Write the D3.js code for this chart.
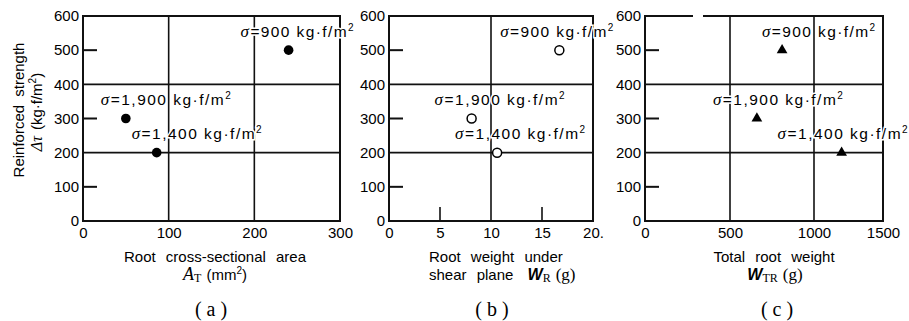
<!DOCTYPE html>
<html>
<head>
<meta charset="utf-8">
<script src="https://cdn.jsdelivr.net/npm/d3@7"></script>
<style>
  html, body { margin: 0; padding: 0; background: #fff; }
  svg { display: block; }
  text { font-family: "Liberation Sans", Arial, sans-serif; fill: #000; }
  .serif { font-family: "Liberation Serif", "DejaVu Serif", serif; }
</style>
</head>
<body>
<svg id="chart" width="909" height="321"></svg>
<script>
// data
const sigmaLabels = ['900', '1,900', '1,400'];
const strength = [500, 300, 200];            // reinforced strength Δτ (kg·f/m²)
const rootArea = [240, 50, 86];              // (a) A_T (mm²)
const rootWeightShear = [16.7, 8.1, 10.6];   // (b) W_R (g)
const totalRootWeight = [810, 660, 1200];    // (c) W_TR (g)

const yTicks = [0, 100, 200, 300, 400, 500, 600];
const xTicksA = [0, 100, 200, 300];
const xTicksB = [0, 5, 10, 15, 20];
const xTickLabelsB = ['0', '5', '10', '15', '20.'];
const xTicksC = [0, 500, 1000, 1500];

const svg = d3.select('#chart');
const y = d3.scaleLinear().domain([0, 600]).range([221, 16]);

// the printed axis of (c) is not quite evenly spaced, so map it piecewise
const panels = [
  {
    key: 'a', x: d3.scaleLinear().domain([0, 300]).range([83, 340]),
    xs: rootArea, ticks: xTicksA, tickLabels: xTicksA.map(String),
    vgrid: [100, 200], minorX: [], marker: 'dot', labelDx: [-48, -25, -25]
  },
  {
    key: 'b', x: d3.scaleLinear().domain([0, 20]).range([389, 593]),
    xs: rootWeightShear, ticks: xTicksB, tickLabels: xTickLabelsB,
    vgrid: [10], minorX: [5, 15], marker: 'ring', labelDx: [-59, -37, -42]
  },
  {
    key: 'c', x: d3.scaleLinear().domain([0, 500, 1000, 1500]).range([645, 730, 814, 883]),
    xs: totalRootWeight, ticks: xTicksC, tickLabels: xTicksC.map(String),
    vgrid: [500, 1000], minorX: [], marker: 'tri', labelDx: [-20, -44, -64]
  }
];

panels.forEach(p => {
  const [x0, x1] = [p.x.range()[0], p.x.range()[p.x.range().length - 1]];
  const g = svg.append('g').attr('class', 'panel-' + p.key);

  // grid lines
  g.append('g').selectAll('line.h')
    .data([200, 400]).join('line')
    .attr('x1', x0).attr('x2', x1)
    .attr('y1', d => y(d)).attr('y2', d => y(d))
    .attr('stroke', '#111').attr('stroke-width', 1.6);
  g.append('g').selectAll('line.v')
    .data(p.vgrid).join('line')
    .attr('x1', d => p.x(d)).attr('x2', d => p.x(d))
    .attr('y1', y(0)).attr('y2', y(600))
    .attr('stroke', '#111').attr('stroke-width', 1.6);

  // short inward ticks
  g.append('g').selectAll('line')
    .data([100, 300, 500]).join('line')
    .attr('x1', x0).attr('x2', x0 + 14)
    .attr('y1', d => y(d)).attr('y2', d => y(d))
    .attr('stroke', '#111').attr('stroke-width', 2);
  g.append('g').selectAll('line')
    .data(p.minorX).join('line')
    .attr('x1', d => p.x(d)).attr('x2', d => p.x(d))
    .attr('y1', y(0)).attr('y2', y(0) - 14)
    .attr('stroke', '#111').attr('stroke-width', 1.6);

  // frame
  g.append('rect')
    .attr('x', x0).attr('y', y(600))
    .attr('width', x1 - x0).attr('height', y(0) - y(600))
    .attr('fill', 'none').attr('stroke', '#111').attr('stroke-width', 2);

  // tick labels
  const ya = g.append('g').attr('transform', `translate(${x0},0)`)
    .call(d3.axisLeft(y).tickValues(yTicks).tickSize(0).tickPadding(4));
  const xa = g.append('g').attr('transform', `translate(0,${y(0)})`)
    .call(d3.axisBottom(p.x).tickValues(p.ticks).tickSize(0).tickPadding(6)
      .tickFormat((d, i) => p.tickLabels[i]));
  [ya, xa].forEach(a => {
    a.select('.domain').remove();
    a.attr('font-family', null).attr('font-size', null);
    a.selectAll('text').attr('font-size', 15).attr('fill', '#000');
  });

  // markers
  const pts = p.xs.map((v, i) => ({ x: p.x(v), y: y(strength[i]), i }));
  if (p.marker === 'dot') {
    g.append('g').selectAll('circle').data(pts).join('circle')
      .attr('cx', d => d.x).attr('cy', d => d.y).attr('r', 4.8).attr('fill', '#000');
  } else if (p.marker === 'ring') {
    g.append('g').selectAll('circle').data(pts).join('circle')
      .attr('cx', d => d.x).attr('cy', d => d.y).attr('r', 4.5)
      .attr('fill', '#fff').attr('stroke', '#000').attr('stroke-width', 1.5);
  } else {
    g.append('g').selectAll('path').data(pts).join('path')
      .attr('transform', d => `translate(${d.x},${d.y})`)
      .attr('d', d3.symbol(d3.symbolTriangle, 50)).attr('fill', '#000');
  }

  // σ labels, white halo breaks the grid behind them like in the print
  const lab = g.append('g').selectAll('text').data(pts).join('text')
    .attr('x', d => d.x + p.labelDx[d.i]).attr('y', d => d.y - 13.5)
    .attr('font-size', 15.5)
    .attr('textLength', d => d.i === 0 ? 113 : 130)
    .attr('lengthAdjust', 'spacing')
    .attr('stroke', '#fff').attr('stroke-width', 3).attr('paint-order', 'stroke');
  lab.append('tspan').attr('class', 'serif').attr('font-style', 'italic').attr('font-size', 17).text('σ');
  lab.append('tspan').text(d => '=' + sigmaLabels[d.i] + ' kg·f/m');
  lab.append('tspan').attr('font-size', 10).attr('dy', -6).text('2');
});

// break in the top border of (c)
svg.append('rect').attr('x', 693).attr('y', 13).attr('width', 10).attr('height', 6).attr('fill', '#fff');

// y axis title
const yt = svg.append('g');
yt.append('text')
  .attr('transform', 'translate(24,110) rotate(-90)')
  .attr('text-anchor', 'middle').attr('font-size', 15)
  .attr('word-spacing', 4)
  .text('Reinforced strength');
const yt2 = yt.append('text')
  .attr('transform', 'translate(42,112) rotate(-90)')
  .attr('text-anchor', 'middle').attr('font-size', 15);
yt2.append('tspan').attr('class', 'serif').attr('font-style', 'italic').attr('font-size', 16).text('Δτ');
yt2.append('tspan').attr('dx', 6).text('(kg·f/m');
yt2.append('tspan').attr('font-size', 10).attr('dy', -6).text('2');
yt2.append('tspan').attr('dy', 6).text(')');

// x axis titles
function title(x, yy, anchor, parts) {
  const t = svg.append('text').attr('x', x).attr('y', yy)
    .attr('text-anchor', anchor).attr('font-size', 15);
  parts.forEach(pt => {
    const s = t.append('tspan').text(pt.t);
    if (pt.serif) s.attr('class', 'serif');
    if (pt.italic) s.attr('font-style', 'italic');
    if (pt.bold) s.attr('font-weight', 'bold');
    if (pt.size) s.attr('font-size', pt.size);
    if (pt.dy) s.attr('dy', pt.dy);
    if (pt.dx) s.attr('dx', pt.dx);
    if (pt.ws) s.attr('word-spacing', pt.ws);
  });
  return t;
}

title(215, 262, 'middle', [{ t: 'Root cross-sectional area', ws: 6 }]);
title(215, 280, 'middle', [
  { t: 'A', serif: true, italic: true, size: 18 },
  { t: 'T', serif: true, size: 12, dy: 2 },
  { t: '(mm', dy: -2, dx: 5 },
  { t: '2', size: 10, dy: -6 },
  { t: ')', dy: 6 }
]);
title(211, 316, 'middle', [{ t: '( a )', serif: true, size: 20 }]);

title(429, 262, 'start', [{ t: 'Root weight under', ws: 6 }]);
title(429, 280, 'start', [
  { t: 'shear plane ', ws: 6 },
  { t: 'W', italic: true, bold: true, size: 16, dx: 4 },
  { t: 'R', serif: true, size: 12, dy: 2 },
  { t: '(g)', serif: true, size: 17, dy: -2, dx: 5 }
]);
title(492, 316, 'middle', [{ t: '( b )', serif: true, size: 20 }]);

title(774, 262, 'middle', [{ t: 'Total root weight', ws: 6 }]);
title(775, 280, 'middle', [
  { t: 'W', italic: true, bold: true, size: 16 },
  { t: 'TR', serif: true, size: 12, dy: 2 },
  { t: '(g)', serif: true, size: 17, dy: -2, dx: 5 }
]);
title(777, 316, 'middle', [{ t: '( c )', serif: true, size: 20 }]);
</script>
</body>
</html>
